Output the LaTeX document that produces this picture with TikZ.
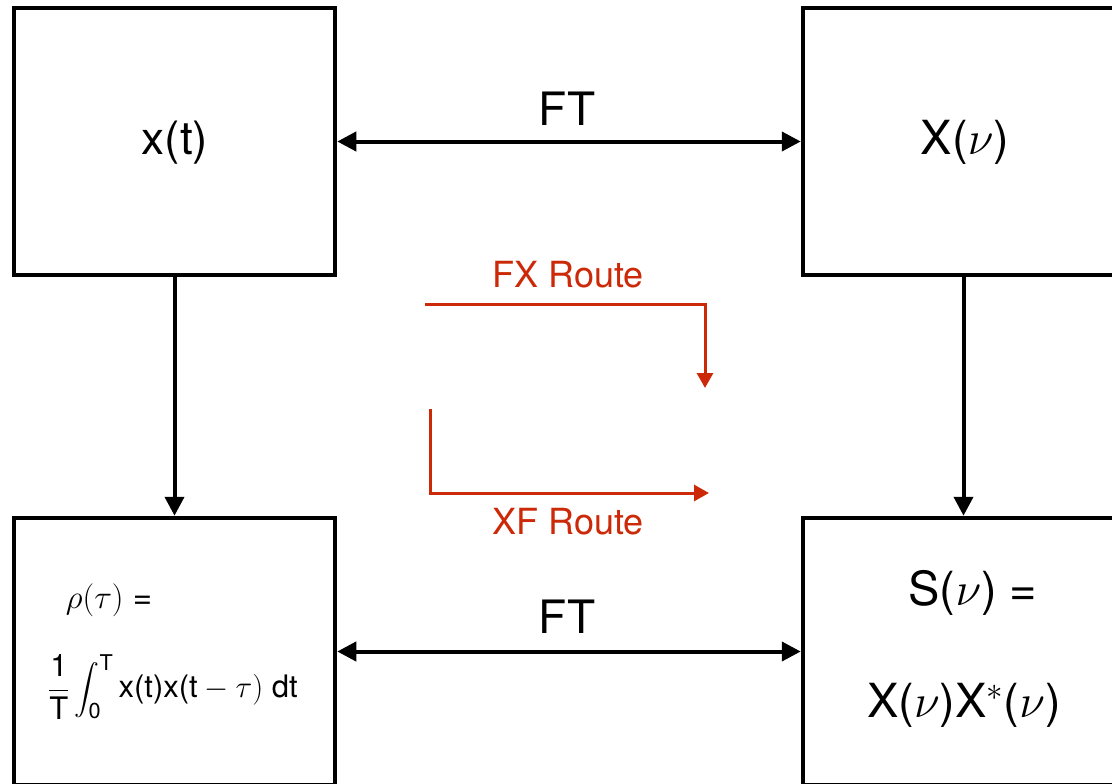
\RequirePackage{fix-cm}
\documentclass[tikz,border=0pt]{standalone}
\usepackage{exscale}
\usepackage{fontspec}
\setmainfont{TeX Gyre Heros}
\usetikzlibrary{arrows.meta}
\definecolor{routered}{RGB}{204,41,8}

\begin{document}
\begin{tikzpicture}[x=1pt,y=-1pt,
  block/.style={draw,line width=4.5pt,minimum width=321pt,minimum height=267pt,inner sep=0pt},
  blocktext/.style={inner sep=0pt,font=\fontsize{47}{52}\selectfont},
  ftlabel/.style={inner sep=0pt,font=\fontsize{46}{50}\selectfont},
  routelabel/.style={inner sep=0pt,text=routered,font=\fontsize{36}{40}\selectfont},
  link/.style={line width=4pt,{Triangle[length=19pt,width=19pt]}-{Triangle[length=19pt,width=19pt]}},
  flow/.style={line width=4pt,-{Triangle[length=19pt,width=19pt]}},
  route/.style={draw=routered,line width=3pt,-{Triangle[length=15pt,width=16pt]}}]
  \useasboundingbox (0,0) rectangle (1112,784);
  \clip (0,0) rectangle (1112,784);

  % the four domains
  \node[block] (xt) at (174.5,141.5) {};
  \node[block] (Xnu) at (963.5,141.5) {};
  \node[block] (rho) at (174.5,651.5) {};
  \node[block] (S) at (963.5,651.5) {};

  % box contents
  \node[blocktext,font=\fontsize{46}{52}\selectfont] (xtlbl) at (175,143) {x(t)};
  \node[blocktext] (Xnulbl) at (965,142) {X($\nu$)};
  \node[inner sep=0pt,font=\fontsize{33}{36}\selectfont] (rholbl) at (109,600) {$\rho(\tau)$ =};
  \node[inner sep=0pt,font=\fontsize{31}{36}\selectfont] (rhoint) at (173,687)
    {$\displaystyle\frac{\mathrm{1}}{\mathrm{T}}\int_{\mathrm{0}}^{\mathrm{T}}\mbox{x(t)x(t}-\tau)\ \mbox{dt}$};
  \node[blocktext] (Slbl) at (973,593) {S($\nu$) =};
  \node[blocktext] (SXX) at (964,705) {X($\nu$)X$^*$($\nu$)};

  % Fourier transform pairs
  \draw[link] (xt.east) -- (Xnu.west);
  \draw[link] (rho.east) -- (S.west);
  \node[ftlabel] (ft1) at (567,109) {FT};
  \node[ftlabel] (ft2) at (567,617) {FT};

  % vertical steps
  \draw[flow] (xt.south) -- (rho.north);
  \draw[flow] (Xnu.south) -- (S.north);

  % the two routes
  \coordinate (fxs) at (425,304);
  \coordinate (fxe) at (705,388);
  \draw[route] (fxs) -| (fxe);
  \node[routelabel] (fxlbl) at (568,275) {FX Route};

  \coordinate (xfs) at (430,409);
  \coordinate (xfe) at (709,493);
  \draw[route] (xfs) |- (xfe);
  \node[routelabel] (xflbl) at (568,522) {XF Route};
\end{tikzpicture}
\end{document}
